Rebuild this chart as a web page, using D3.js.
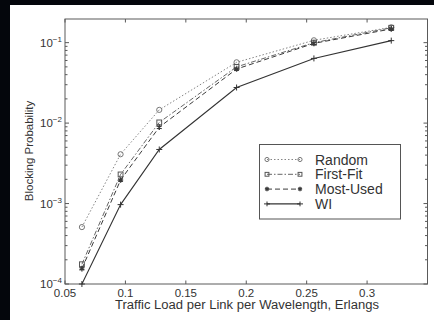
<!DOCTYPE html>
<html>
<head>
<meta charset="utf-8">
<script src="https://cdn.jsdelivr.net/npm/d3@7/dist/d3.min.js"></script>
<style>
  html, body { margin: 0; padding: 0; background: #04060c; }
  svg { display: block; }
  text { font-family: "Liberation Sans", Arial, sans-serif; fill: #333; }
</style>
</head>
<body>
<div id="chart"></div>
<script>
// traffic load values (Erlangs)
const loads = [0.064, 0.096, 0.128, 0.192, 0.256, 0.32];

// blocking probability per algorithm
const randomVals  = [5.1e-4, 4.1e-3, 0.0146, 0.057, 0.107, 0.155];
const firstFitVals = [1.76e-4, 2.3e-3, 0.0102, 0.050, 0.100, 0.153];
const mostUsedVals = [1.55e-4, 1.96e-3, 0.0089, 0.047, 0.098, 0.148];
const wiVals       = [1.0e-4, 9.7e-4, 0.0047, 0.0277, 0.0637, 0.106];

const seriesNames = ["Random", "First-Fit", "Most-Used", "WI"];
const xTicks = [0.05, 0.1, 0.15, 0.2, 0.25, 0.3];
const xTickLabels = ["0.05", "0.1", "0.15", "0.2", "0.25", "0.3"];
const yTicks = [1e-4, 1e-3, 1e-2, 1e-1];
const yTickExp = ["-4", "-3", "-2", "-1"];

const W = 434, H = 320;
const plot = { left: 65, right: 427.5, top: 19, bottom: 284 };

const svg = d3.select("#chart").append("svg")
  .attr("width", W).attr("height", H);

// white page area over the dark background
svg.append("rect").attr("x", 10).attr("y", 5)
  .attr("width", W - 10).attr("height", H - 5).attr("fill", "#fff");

const x = d3.scaleLinear().domain([0.05, 0.35]).range([plot.left, plot.right]);
const y = d3.scaleLog().domain([1e-4, Math.pow(10, -0.706)]).range([plot.bottom, plot.top]);

const axisColor = "#5a5a5a";

// frame
svg.append("rect")
  .attr("x", plot.left).attr("y", plot.top)
  .attr("width", plot.right - plot.left).attr("height", plot.bottom - plot.top)
  .attr("fill", "none").attr("stroke", axisColor).attr("stroke-width", 1);

// x ticks, top and bottom, pointing inward
const gx = svg.append("g");
xTicks.forEach(function (t, i) {
  gx.append("line").attr("x1", x(t)).attr("x2", x(t))
    .attr("y1", plot.bottom).attr("y2", plot.bottom - 3.5)
    .attr("stroke", axisColor);
  gx.append("line").attr("x1", x(t)).attr("x2", x(t))
    .attr("y1", plot.top).attr("y2", plot.top + 3.5)
    .attr("stroke", axisColor);
  gx.append("text").attr("x", x(t)).attr("y", plot.bottom + 13)
    .attr("text-anchor", "middle").attr("font-size", 11.5)
    .text(xTickLabels[i]);
});

// y ticks (log: majors + minors on both sides)
const gy = svg.append("g");
const minors = [];
for (let e = -4; e <= -1; e++) {
  for (let m = 2; m <= 9; m++) {
    const v = m * Math.pow(10, e);
    if (v <= y.domain()[1]) minors.push(v);
  }
}
minors.forEach(function (v) {
  gy.append("line").attr("x1", plot.left).attr("x2", plot.left + 2.5)
    .attr("y1", y(v)).attr("y2", y(v)).attr("stroke", axisColor);
  gy.append("line").attr("x1", plot.right).attr("x2", plot.right - 2.5)
    .attr("y1", y(v)).attr("y2", y(v)).attr("stroke", axisColor);
});
yTicks.forEach(function (t, i) {
  gy.append("line").attr("x1", plot.left).attr("x2", plot.left + 4)
    .attr("y1", y(t)).attr("y2", y(t)).attr("stroke", axisColor);
  gy.append("line").attr("x1", plot.right).attr("x2", plot.right - 4)
    .attr("y1", y(t)).attr("y2", y(t)).attr("stroke", axisColor);
  const lbl = gy.append("text").attr("x", 40).attr("y", y(t) + 4)
    .attr("font-size", 11.5);
  lbl.append("tspan").text("10");
  lbl.append("tspan").attr("dy", -5).attr("font-size", 8).text(yTickExp[i].replace("-", "\u2212"));
});

// axis titles
svg.append("text")
  .attr("x", 115).attr("y", 309)
  .attr("font-size", 12.5)
  .attr("textLength", 264).attr("lengthAdjust", "spacingAndGlyphs")
  .text("Traffic Load per Link per Wavelength, Erlangs");

svg.append("text")
  .attr("transform", "translate(33," + 151 + ") rotate(-90)")
  .attr("text-anchor", "middle").attr("font-size", 11.5)
  .text("Blocking Probability");

// series styles
const allVals = [randomVals, firstFitVals, mostUsedVals, wiVals];
const styles = [
  { color: "#777", dash: "1.5,2", width: 0.9, marker: "circle" },
  { color: "#555", dash: "5,2,1.5,2", width: 0.9, marker: "square" },
  { color: "#3a3a3a", dash: "5,3", width: 1, marker: "star" },
  { color: "#333", dash: null, width: 1.1, marker: "plus" }
];

const line = d3.line().x(d => x(d[0])).y(d => y(d[1]));

function drawMarker(g, kind, cx, cy, color, s) {
  s = s || 1;
  if (kind === "circle") {
    g.append("circle").attr("cx", cx).attr("cy", cy).attr("r", 2.6 * s)
      .attr("fill", "none").attr("stroke", color).attr("stroke-width", 1);
  } else if (kind === "square") {
    g.append("rect").attr("x", cx - 2.4 * s).attr("y", cy - 2.4 * s)
      .attr("width", 4.8 * s).attr("height", 4.8 * s)
      .attr("fill", "none").attr("stroke", color).attr("stroke-width", 1);
  } else if (kind === "star") {
    g.append("path")
      .attr("d", d3.symbol().type(d3.symbolAsterisk).size(22 * s * s)())
      .attr("transform", "translate(" + cx + "," + cy + ")")
      .attr("fill", "none").attr("stroke", color).attr("stroke-width", 1.4);
  } else {
    g.append("path")
      .attr("d", "M" + (cx - 3) + "," + cy + "H" + (cx + 3) + "M" + cx + "," + (cy - 3 * s) + "V" + (cy + 3 * s))
      .attr("stroke", color).attr("stroke-width", 1);
  }
}

allVals.forEach(function (vals, i) {
  const st = styles[i];
  const pts = loads.map((l, j) => [l, vals[j]]);
  const g = svg.append("g");
  g.append("path").datum(pts).attr("d", line)
    .attr("fill", "none").attr("stroke", st.color)
    .attr("stroke-width", st.width)
    .attr("stroke-dasharray", st.dash);
  pts.forEach(p => drawMarker(g, st.marker, x(p[0]), y(p[1]), st.color));
});

// legend
const leg = svg.append("g");
leg.append("rect").attr("x", 259.5).attr("y", 144.5)
  .attr("width", 141).attr("height", 74.5)
  .attr("fill", "#fff").attr("stroke", "#555").attr("stroke-width", 1);
seriesNames.forEach(function (name, i) {
  const st = styles[i];
  const ly = 159.5 + i * 14.8;
  leg.append("line").attr("x1", 267).attr("x2", 300)
    .attr("y1", ly).attr("y2", ly)
    .attr("stroke", st.color).attr("stroke-width", st.width)
    .attr("stroke-dasharray", st.dash);
  drawMarker(leg, st.marker, 267, ly, st.color, 0.8);
  drawMarker(leg, st.marker, 300, ly, st.color, 0.8);
  leg.append("text").attr("x", 315).attr("y", ly + 5)
    .attr("font-size", 14).text(name);
});
</script>
</body>
</html>
